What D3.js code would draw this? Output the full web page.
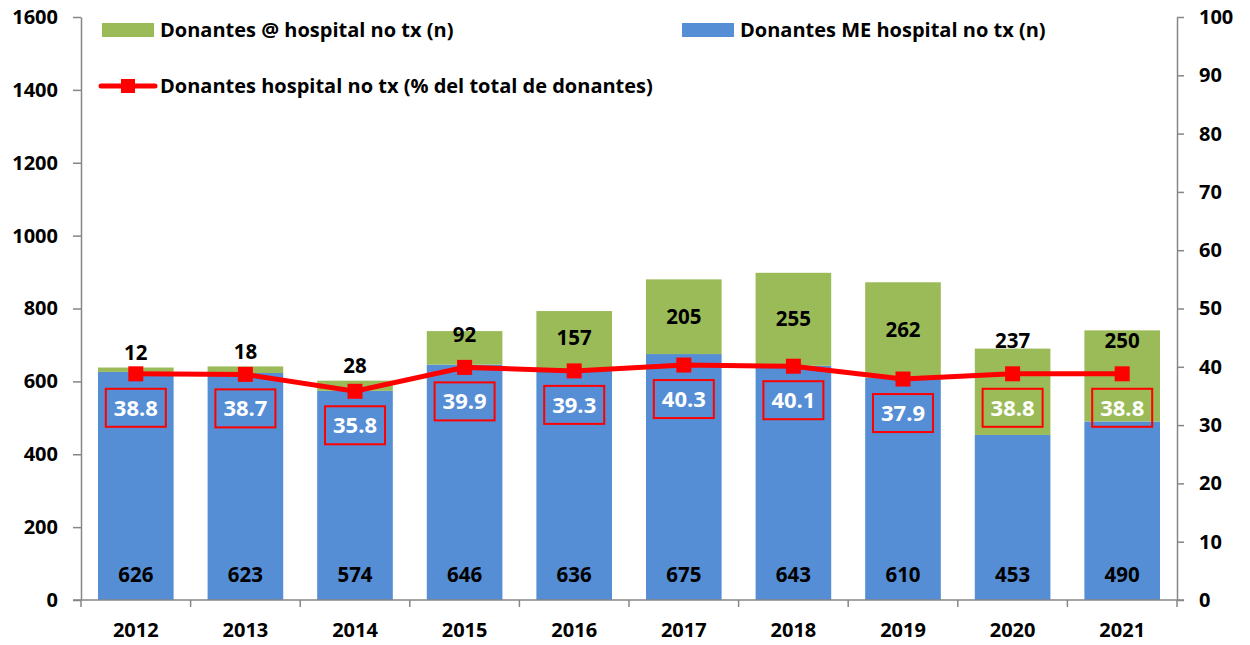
<!DOCTYPE html>
<html>
<head>
<meta charset="utf-8">
<script src="https://cdn.jsdelivr.net/npm/d3@7"></script>
<style>
  body { margin: 0; background: #fff; }
  svg { display: block; font-family: "Open Sans", Lato, sans-serif; font-weight: 700; }
</style>
</head>
<body>
<div id="chart"></div>
<script>
  const years = ['2012', '2013', '2014', '2015', '2016', '2017', '2018', '2019', '2020', '2021'];
  const donantesME = [626, 623, 574, 646, 636, 675, 643, 610, 453, 490];
  const donantesArroba = [12, 18, 28, 92, 157, 205, 255, 262, 237, 250];
  const pctTotal = [38.8, 38.7, 35.8, 39.9, 39.3, 40.3, 40.1, 37.9, 38.8, 38.8];
  const leftTicks = [0, 200, 400, 600, 800, 1000, 1200, 1400, 1600];
  const rightTicks = [0, 10, 20, 30, 40, 50, 60, 70, 80, 90, 100];

  const W = 1250, H = 645;
  const plot = { left: 81, right: 1177, top: 17, bottom: 600 };
  const blue = '#558ED5', green = '#9BBB59', red = '#FF0000', axisGrey = '#868686';

  const svg = d3.select('#chart').append('svg')
    .attr('width', W)
    .attr('height', H);

  const x = d3.scaleBand()
    .domain(years)
    .range([plot.left, plot.right])
    .paddingInner(0.31)
    .paddingOuter(0.155);
  const y = d3.scaleLinear().domain([0, 1600]).range([plot.bottom, plot.top]);
  const y2 = d3.scaleLinear().domain([0, 100]).range([plot.bottom, plot.top]);

  const rows = years.map((yr, i) => ({
    year: yr, me: donantesME[i], at: donantesArroba[i], pct: pctTotal[i]
  }));

  // bars
  svg.append('g').selectAll('rect.me')
    .data(rows).enter().append('rect')
    .attr('x', d => x(d.year))
    .attr('y', d => y(d.me))
    .attr('width', x.bandwidth())
    .attr('height', d => y(0) - y(d.me))
    .attr('fill', blue);
  svg.append('g').selectAll('rect.at')
    .data(rows).enter().append('rect')
    .attr('x', d => x(d.year))
    .attr('y', d => y(d.me + d.at))
    .attr('width', x.bandwidth())
    .attr('height', d => y(d.me) - y(d.me + d.at))
    .attr('fill', green);

  // axes
  const gl = svg.append('g')
    .attr('transform', `translate(${plot.left},0)`)
    .call(d3.axisLeft(y).tickValues(leftTicks).tickFormat(d3.format('d'))
      .tickSize(8).tickPadding(15).tickSizeOuter(0));
  const gr = svg.append('g')
    .attr('transform', `translate(${plot.right},0)`)
    .call(d3.axisRight(y2).tickValues(rightTicks).tickSize(7).tickPadding(15).tickSizeOuter(0));
  const gb = svg.append('g')
    .attr('transform', `translate(0,${plot.bottom})`)
    .call(d3.axisBottom(x).tickSize(0).tickPadding(23).tickSizeOuter(0));
  [gl, gr, gb].forEach(g => {
    g.selectAll('.domain').attr('stroke', axisGrey).attr('stroke-width', 1.5);
    g.selectAll('.tick line').attr('stroke', axisGrey).attr('stroke-width', 1.5);
    g.selectAll('.tick text')
      .attr('fill', '#000')
      .style('font-family', '"Open Sans", sans-serif')
      .style('font-weight', 700)
      .style('font-size', '20px');
  });
  gb.select('.domain').attr('d', `M${plot.left - 8},0H${plot.right + 7}`);
  gr.selectAll('.tick text').attr('text-anchor', 'start');

  // category boundary ticks
  const half = x.step() * x.paddingInner() / 2;
  const bounds = years.map(yr => x(yr) - half).concat([x(years[years.length - 1]) + x.bandwidth() + half]);
  svg.append('g').selectAll('line')
    .data(bounds).enter().append('line')
    .attr('x1', d => d).attr('x2', d => d)
    .attr('y1', plot.bottom).attr('y2', plot.bottom + 7)
    .attr('stroke', axisGrey).attr('stroke-width', 1.5);

  // value labels in blue bars
  svg.append('g').selectAll('text')
    .data(rows).enter().append('text')
    .attr('x', d => x(d.year) + x.bandwidth() / 2)
    .attr('y', y(0) - 25)
    .attr('dy', '0.35em')
    .attr('text-anchor', 'middle')
    .attr('font-size', 20.5)
    .attr('fill', '#000')
    .text(d => d.me);

  // value labels of green segment
  svg.append('g').selectAll('text')
    .data(rows).enter().append('text')
    .attr('x', d => x(d.year) + x.bandwidth() / 2)
    .attr('y', d => {
      const top = y(d.me + d.at), base = y(d.me);
      if (base - top < 30) return top - 15;
      return Math.min((top + base) / 2, y2(d.pct) - 33);
    })
    .attr('dy', '0.35em')
    .attr('text-anchor', 'middle')
    .attr('font-size', 20.5)
    .attr('fill', '#000')
    .text(d => d.at);

  // line
  const cx = d => x(d.year) + x.bandwidth() / 2;
  svg.append('path')
    .datum(rows)
    .attr('fill', 'none')
    .attr('stroke', red)
    .attr('stroke-width', 5)
    .attr('d', d3.line().x(cx).y(d => y2(d.pct)));
  svg.append('g').selectAll('rect')
    .data(rows).enter().append('rect')
    .attr('x', d => cx(d) - 7.5)
    .attr('y', d => y2(d.pct) - 7.5)
    .attr('width', 15).attr('height', 15)
    .attr('fill', red);

  // percentage labels in red boxes
  const pl = svg.append('g').selectAll('g')
    .data(rows).enter().append('g')
    .attr('transform', d => `translate(${cx(d)},${y2(d.pct) + 34})`);
  pl.append('rect')
    .attr('x', -30).attr('y', -19)
    .attr('width', 60).attr('height', 38)
    .attr('fill', 'none')
    .attr('stroke', red)
    .attr('stroke-width', 2);
  pl.append('text')
    .attr('text-anchor', 'middle')
    .attr('dy', '0.36em')
    .attr('font-size', 22)
    .attr('fill', '#fff')
    .text(d => d.pct.toFixed(1));

  // legend
  const leg = svg.append('g').attr('font-size', 20).attr('fill', '#000');
  leg.append('rect').attr('x', 102).attr('y', 23).attr('width', 52).attr('height', 14).attr('fill', green);
  leg.append('text').attr('x', 160).attr('y', 30).attr('dy', '0.35em').text('Donantes @ hospital no tx (n)');
  leg.append('rect').attr('x', 682).attr('y', 23).attr('width', 52).attr('height', 14).attr('fill', blue);
  leg.append('text').attr('x', 740).attr('y', 30).attr('dy', '0.35em').text('Donantes ME hospital no tx (n)');
  leg.append('line').attr('x1', 101).attr('x2', 155).attr('y1', 86).attr('y2', 86)
    .attr('stroke', red).attr('stroke-width', 5).attr('stroke-linecap', 'round');
  leg.append('rect').attr('x', 121).attr('y', 79).attr('width', 14).attr('height', 14).attr('fill', red);
  leg.append('text').attr('x', 160).attr('y', 86).attr('dy', '0.35em').text('Donantes hospital no tx (% del total de donantes)');
</script>
</body>
</html>
